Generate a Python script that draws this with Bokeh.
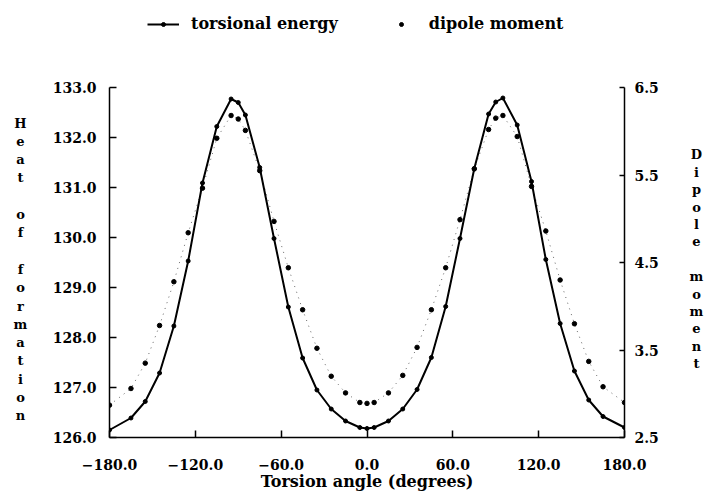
from bokeh.plotting import figure
from bokeh.layouts import column, row
from bokeh.models import (Range1d, LinearAxis, FixedTicker, Legend, LegendItem,
                          Label, ColumnDataSource)
from bokeh.embed import file_html
from bokeh.resources import INLINE

angles = [-180, -165, -155, -145, -135, -125, -115, -105, -95, -90, -85, -75, -65,
          -55, -45, -35, -25, -15, -5, 0, 5, 15, 25, 35, 45, 55, 65, 75, 85, 90, 95,
          105, 115, 125, 135, 145, 155, 165, 180]

torsional_energy = [126.15, 126.39, 126.72, 127.29, 128.23, 129.53, 131.09, 132.22,
                    132.77, 132.70, 132.45, 131.40, 129.98, 128.61, 127.59, 126.95,
                    126.57, 126.33, 126.20, 126.18, 126.20, 126.33, 126.57, 126.96,
                    127.60, 128.62, 129.98, 131.38, 132.47, 132.71, 132.79, 132.25,
                    131.12, 129.56, 128.28, 127.33, 126.75, 126.42, 126.20]

dipole_moment = [2.87, 3.06, 3.35, 3.78, 4.28, 4.84, 5.35, 5.92, 6.18, 6.14, 6.01,
                 5.55, 4.97, 4.44, 3.96, 3.52, 3.20, 3.01, 2.90, 2.89, 2.90, 3.01,
                 3.21, 3.53, 3.96, 4.44, 4.99, 5.57, 6.02, 6.15, 6.18, 5.94, 5.37,
                 4.86, 4.30, 3.80, 3.37, 3.08, 2.90]

x_ticks = [-180, -120, -60, 0, 60, 120, 180]
y_left_ticks = [126, 127, 128, 129, 130, 131, 132, 133]
y_right_ticks = [2.5, 3.5, 4.5, 5.5, 6.5]

series_names = ["torsional energy", "dipole moment"]
left_title = "Heat of formation"
right_title = "Dipole moment"
x_title = "Torsion angle (degrees)"

FONT = "DejaVu Serif"
TOTAL_W = 705
TOP_H = 45
ROW_H = 450
LEFT_W = 40
RIGHT_W = 25
MAIN_W = TOTAL_W - LEFT_W - RIGHT_W

src = ColumnDataSource(dict(a=angles, e=torsional_energy, d=dipole_moment))


def blank_fig(w, h, xr, yr):
    f = figure(width=w, height=h, x_range=Range1d(*xr), y_range=Range1d(*yr),
               output_backend="svg", toolbar_location=None,
               min_border=0, min_border_left=0, min_border_right=0,
               min_border_top=0, min_border_bottom=0)
    f.axis.visible = False
    f.grid.visible = False
    f.outline_line_color = None
    return f


# ---- main plot ----
p = figure(width=MAIN_W, height=ROW_H, x_range=Range1d(-180, 180), y_range=Range1d(126, 133),
           output_backend="svg", toolbar_location=None,
           min_border_left=69, min_border_right=56, min_border_top=42, min_border_bottom=58)
p.outline_line_color = None
p.xgrid.grid_line_color = None
p.ygrid.grid_line_color = None
p.extra_y_ranges = {"dip": Range1d(2.5, 6.5)}


def fmt(v):
    return f"{v:.1f}".replace("-", "\u2212")


def style_axis(ax, ticks, standoff):
    ax.ticker = FixedTicker(ticks=ticks)
    ax.major_label_overrides = {t: fmt(t) for t in ticks}
    ax.minor_tick_line_color = None
    ax.major_tick_in = 7
    ax.major_tick_out = 0
    ax.major_tick_line_width = 1.5
    ax.axis_line_width = 1.5
    ax.axis_line_color = "black"
    ax.major_tick_line_color = "black"
    ax.major_label_text_font = FONT
    ax.major_label_text_font_style = "bold"
    ax.major_label_text_font_size = "14px"
    ax.major_label_text_color = "black"
    ax.major_label_standoff = standoff


xa = p.xaxis[0]
style_axis(xa, x_ticks, 21)
xa.axis_label = x_title
xa.axis_label_text_font = FONT
xa.axis_label_text_font_style = "bold"
xa.axis_label_text_font_size = "16px"
xa.axis_label_text_color = "black"
xa.axis_label_standoff = -1

ya = p.yaxis[0]
style_axis(ya, y_left_ticks, 13)

yr = LinearAxis(y_range_name="dip")
style_axis(yr, y_right_ticks, 10)
yr.major_tick_in = 5
p.add_layout(yr, "right")

p.line("a", "d", source=src, y_range_name="dip", line_color="#666666",
       line_width=1, line_dash="1 5")
p.scatter("a", "d", source=src, y_range_name="dip", marker="circle",
          size=4.5, fill_color="black", line_color="black")
p.line("a", "e", source=src, line_color="black", line_width=2)
p.scatter("a", "e", source=src, marker="circle", size=4,
          fill_color="black", line_color="black")

# ---- top strip with the legend (same series; the strip's ranges keep them out of view) ----
top = blank_fig(TOTAL_W, TOP_H, (0, 1), (0, 1))
lg_line = top.line("a", "e", source=src, line_color="black", line_width=2)
lg_pts = top.scatter("a", "e", source=src, marker="circle", fill_color="black",
                     line_color="black")
lg_dip = top.scatter("a", "d", source=src, marker="circle", fill_color="black",
                     line_color="black")
legend = Legend(items=[LegendItem(label=series_names[0], renderers=[lg_line, lg_pts]),
                       LegendItem(label=series_names[1], renderers=[lg_dip])],
                orientation="horizontal", location=(147, 12),
                glyph_width=32, glyph_height=10, label_standoff=12, spacing=47,
                padding=0, margin=0, border_line_alpha=0, background_fill_alpha=0,
                label_text_font=FONT, label_text_font_style="bold",
                label_text_font_size="16px", label_text_color="black")
top.add_layout(legend, "center")


# ---- side strips with stacked letters ----
def stacked(s):
    return "\n".join(s)


left = blank_fig(LEFT_W, ROW_H, (0, LEFT_W), (0, ROW_H))
left.add_layout(Label(x=20, y=216, text=stacked(left_title),
                      text_align="center", text_baseline="middle",
                      text_font=FONT, text_font_style="bold", text_font_size="13px",
                      text_line_height=1.22, text_color="black"))

right = blank_fig(RIGHT_W, ROW_H, (0, RIGHT_W), (0, ROW_H))
right.add_layout(Label(x=16, y=229, text=stacked(right_title),
                       text_align="center", text_baseline="middle",
                       text_font=FONT, text_font_style="bold", text_font_size="13px",
                       text_line_height=1.16, text_color="black"))

layout = column(top, row(left, p, right, spacing=0), spacing=0)

open("out.html", "w").write(file_html(layout, INLINE))
